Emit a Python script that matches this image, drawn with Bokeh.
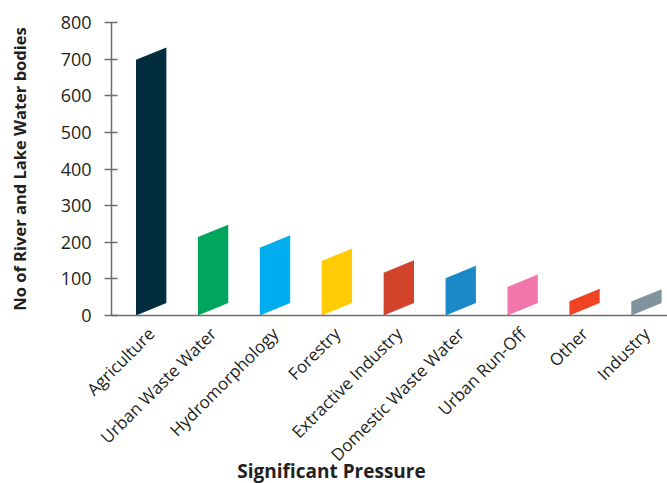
import math

from bokeh.plotting import figure
from bokeh.models import Range1d, FixedTicker, Label, ColumnDataSource
from bokeh.embed import file_html
from bokeh.resources import INLINE

# Number of river and lake water bodies affected by each significant pressure
categories = [
    "Agriculture",
    "Urban Waste Water",
    "Hydromorphology",
    "Forestry",
    "Extractive Industry",
    "Domestic Waste Water",
    "Urban Run-Off",
    "Other",
    "Industry",
]
counts = [698, 214, 185, 149, 117, 102, 78, 39, 38]
colors = [
    "#012D3C",
    "#00A65D",
    "#00AEEF",
    "#FFCB05",
    "#D2432B",
    "#1B88C8",
    "#F176AC",
    "#EF4423",
    "#7F949C",
]
y_ticks = [0, 100, 200, 300, 400, 500, 600, 700, 800]

FONT = "Open Sans"
TEXT = "#231F20"
AXIS = "#6D6E70"

# Bars are drawn as slanted parallelograms: the right edge is lifted by SLANT
BAR_W = 0.49
SLANT = 34

# Where the two axes cross, in data units
X_ORIGIN = -0.641
Y_MAX = 800

xs, ys = [], []
for i, v in enumerate(counts):
    x0, x1 = i - BAR_W / 2, i + BAR_W / 2
    xs.append([x0, x0, x1, x1])
    ys.append([0, v, v + SLANT, SLANT])

src = ColumnDataSource(dict(xs=xs, ys=ys, color=colors, name=categories))

# The plot area fills the whole canvas; both axes are pinned inside it,
# which leaves room for the value labels on the left and the rotated
# category names and axis title underneath.
p = figure(
    width=667,
    height=483,
    x_range=Range1d(-2.434, 8.34),
    y_range=Range1d(-458.7, 860.07),
    output_backend="svg",
    toolbar_location=None,
    min_border=0,
)
p.title.visible = False
p.outline_line_color = None
p.xgrid.visible = False
p.ygrid.visible = False
p.background_fill_color = "white"
p.border_fill_color = "white"

p.patches("xs", "ys", source=src, fill_color="color", line_color=None)

# Y axis
ya = p.yaxis[0]
ya.fixed_location = X_ORIGIN
ya.bounds = (0, Y_MAX)
ya.ticker = FixedTicker(ticks=y_ticks)
ya.axis_label = "No of River and Lake Water bodies"
ya.axis_label_text_font = FONT
ya.axis_label_text_font_style = "bold"
ya.axis_label_text_font_size = "16.5px"
ya.axis_label_text_color = TEXT
ya.axis_label_standoff = 27
ya.major_label_text_font = FONT
ya.major_label_text_font_size = "18px"
ya.major_label_text_color = TEXT
ya.major_label_standoff = 13
ya.major_tick_in = 6
ya.major_tick_out = 7
ya.minor_tick_line_color = None
ya.axis_line_color = AXIS
ya.axis_line_width = 1.5
ya.major_tick_line_color = AXIS
ya.major_tick_line_width = 1.5

# X axis with rotated category names, pinned at zero
xa = p.xaxis[0]
xa.fixed_location = 0
xa.bounds = (X_ORIGIN, 8.34)
xa.ticker = FixedTicker(ticks=list(range(len(categories))))
xa.major_label_overrides = {i: c for i, c in enumerate(categories)}
xa.major_label_orientation = math.pi / 4
xa.major_label_text_font = FONT
xa.major_label_text_font_size = "17px"
xa.major_label_text_color = TEXT
xa.major_label_standoff = 9
xa.major_tick_line_color = None
xa.minor_tick_line_color = None
xa.axis_line_color = AXIS
xa.axis_line_width = 1.5

# X axis title
p.add_layout(
    Label(
        x=331,
        y=13,
        x_units="screen",
        y_units="screen",
        text="Significant Pressure",
        text_align="center",
        text_baseline="middle",
        text_font=FONT,
        text_font_style="bold",
        text_font_size="19px",
        text_color=TEXT,
    )
)

open("out.html", "w").write(file_html(p, INLINE))
